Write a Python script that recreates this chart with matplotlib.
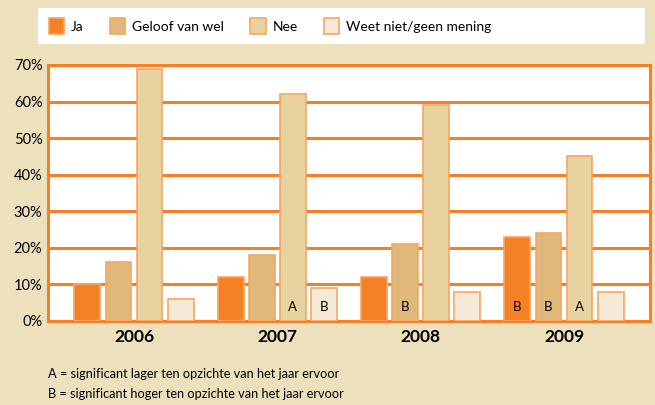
import matplotlib.pyplot as plt
import numpy as np
from matplotlib.patches import Patch

years = ['2006', '2007', '2008', '2009']
series = ['Ja', 'Geloof van wel', 'Nee', 'Weet niet/geen mening']
ja = [10, 12, 12, 23]
geloof = [16, 18, 21, 24]
nee = [69, 62, 59, 45]
weet = [6, 9, 8, 8]
# significance markers per series (A = lager, B = hoger)
marks_ja = ['', '', '', 'B']
marks_geloof = ['', '', 'B', 'B']
marks_nee = ['', 'A', '', 'A']
marks_weet = ['', 'B', '', '']

colors = ['#F58025', '#E0B87A', '#E8D3A0', '#F5EAD8']
edge = '#F7A663'
bg = '#EDE0BD'
orange = '#F58025'

plt.rcParams['font.family'] = ['Lato', 'DejaVu Sans']

fig = plt.figure(figsize=(6.55, 4.05), dpi=100, facecolor=bg)
ax = fig.add_axes([48 / 655, 84 / 405, 602 / 655, 256 / 405])
ax.set_facecolor('white')

x = np.arange(len(years))
width = 0.18
step = 0.217
offsets = [-1.5 * step, -0.5 * step, 0.5 * step, 1.5 * step]
data = [ja, geloof, nee, weet]
marks = [marks_ja, marks_geloof, marks_nee, marks_weet]

ax.set_axisbelow(True)
ax.yaxis.grid(True, color=orange, linewidth=2.2)
for vals, off, c, mk in zip(data, offsets, colors, marks):
    ax.bar(x + off, vals, width, color=c, edgecolor=edge, linewidth=1.2, zorder=3)
    for xi, m in zip(x, mk):
        if m:
            ax.text(xi + off, 3.8, m, ha='center', va='center', fontsize=9.5, color='black', zorder=4)

ax.set_xlim(-0.6, 3.6)
ax.set_ylim(0, 70)
ax.set_yticks(range(0, 71, 10))
ax.set_yticklabels([f'{v}%' for v in range(0, 71, 10)], fontsize=10.5)
ax.set_xticks(x)
ax.set_xticklabels(years, fontsize=12.5, fontweight='bold')
ax.tick_params(length=0, pad=4)
ax.tick_params(axis='x', pad=6)
for s in ax.spines.values():
    s.set_color(orange)
    s.set_linewidth(2.2)

handles = [Patch(facecolor=c, edgecolor=edge, linewidth=1.2) for c in colors]
leg = fig.legend(handles, series, loc='center left', ncol=4,
                 bbox_to_anchor=(36 / 655, 1 - 26 / 405), frameon=False,
                 fontsize=10, handlelength=1.1, handleheight=1.4,
                 columnspacing=1.9, handletextpad=0.5)
fig.patches.append(plt.Rectangle((38 / 655, 1 - 44 / 405), 607 / 655, 36 / 405,
                                 transform=fig.transFigure, facecolor='white',
                                 edgecolor='none', zorder=0))

fig.text(48 / 655, 1 - 374 / 405, 'A = significant lager ten opzichte van het jaar ervoor',
         fontsize=9.2, va='center')
fig.text(48 / 655, 1 - 394 / 405, 'B = significant hoger ten opzichte van het jaar ervoor',
         fontsize=9.2, va='center')

fig.savefig('out.png', dpi=100, facecolor=bg)
